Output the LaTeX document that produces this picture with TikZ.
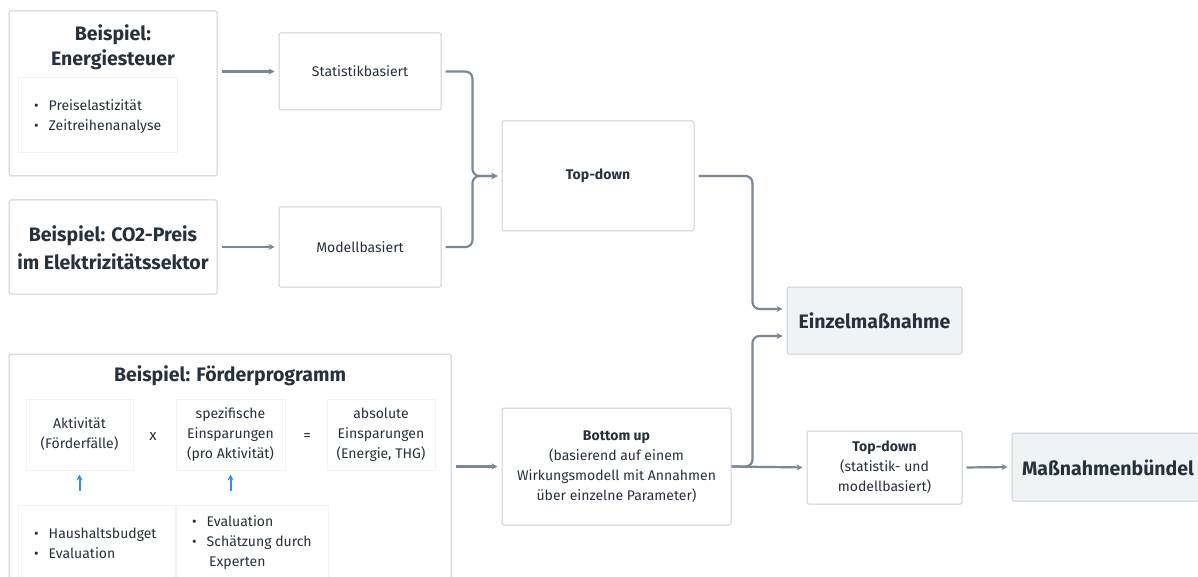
\documentclass[tikz,border=0pt]{standalone}
\usepackage{fontspec}
\setmainfont{Fira Sans}
\usetikzlibrary{arrows.meta,calc}
\definecolor{txt}{HTML}{27313C}
\definecolor{lnk}{HTML}{7B8794}
\definecolor{bord}{HTML}{C9CFD6}
\definecolor{faint}{HTML}{F1F2F4}
\definecolor{fillb}{HTML}{F0F3F6}
\definecolor{blu}{HTML}{3A8EE0}
\tikzset{
  box/.style={draw=bord, line width=1pt, rounded corners=1.5pt, fill=white, inner sep=0pt, text=txt},
  softbox/.style={draw=faint, line width=1pt, fill=white, inner sep=0pt, text=txt},
  hibox/.style={box, fill=fillb},
  plain/.style={text=txt, inner sep=0pt, align=center, font=\fontsize{14}{20}\selectfont},
  title/.style={text=txt, inner sep=0pt, align=center, font=\fontsize{19.5}{25}\selectfont\bfseries},
  bul/.style={text=txt, inner sep=0pt, align=left, font=\fontsize{14}{20}\selectfont},
  conn/.style={draw=lnk, line width=2.2pt, rounded corners=7pt, -{Stealth[length=6pt,width=6pt]}},
  bconn/.style={draw=blu, line width=2pt, -{Stealth[length=6pt,width=6pt]}},
}
\begin{document}
\begin{tikzpicture}[x=1pt,y=-1pt]
\useasboundingbox (0,0) rectangle (1198,577);
\clip (0,0) rectangle (1198,577);
% Box A
\node[box, minimum width=208pt, minimum height=165pt] (boxA) at (113,93.5) {};
\node[title] (titleA) at (113,47.5) {Beispiel:\\Energiesteuer};
\node[softbox, minimum width=159pt, minimum height=75pt] (bulA) at (97.5,115.5) {};
\node[bul, anchor=west] (bulAt) at (34,117) {•\hspace{10pt}Preiselastizität\\•\hspace{10pt}Zeitreihenanalyse};
% Box B
\node[box, minimum width=208pt, minimum height=94pt] (boxB) at (113,247) {};
\node[title, font=\fontsize{19.5}{28}\selectfont\bfseries] (titleB) at (113,248) {Beispiel: CO2-Preis\\im Elektrizitätssektor};
% Stat / Mod
\node[box, minimum width=162pt, minimum height=77pt, plain] (stat) at (360,71.5) {Statistikbasiert};
\node[box, minimum width=162pt, minimum height=80pt, plain] (mod) at (360,247) {Modellbasiert};
% Top-down
\node[box, minimum width=192pt, minimum height=110pt, plain, font=\fontsize{14}{20}\selectfont\bfseries] (td) at (598,176) {Top-down};
% Einzel
\node[hibox, minimum width=175pt, minimum height=67pt, title] (einzel) at (874.5,320.5) {Einzelmaßnahme};
% Box C
\node[box, minimum width=442pt, minimum height=240pt] (boxC) at (230,474) {};
\node[title] (titleC) at (230,376) {Beispiel: Förderprogramm};
\node[softbox, minimum width=107pt, minimum height=71pt, plain] (akt) at (79.5,434.5) {Aktivität\\(Förderfälle)};
\node[plain, font=\fontsize{15}{20}\selectfont] (mal) at (153,437) {x};
\node[softbox, minimum width=109pt, minimum height=71pt, plain] (spez) at (230.5,434.5) {spezifische\\Einsparungen\\(pro Aktivität)};
\node[plain, font=\fontsize{15}{20}\selectfont] (gl) at (307,437) {=};
\node[softbox, minimum width=108pt, minimum height=71pt, plain] (abs) at (381,434.5) {absolute\\Einsparungen\\(Energie, THG)};
\node[softbox, minimum width=157pt, minimum height=85pt] (hh) at (96.5,547.5) {};
\node[bul, anchor=west] (hht) at (34,543) {•\hspace{10pt}Haushaltsbudget\\•\hspace{10pt}Evaluation};
\node[softbox, minimum width=152pt, minimum height=85pt] (ev) at (252,547.5) {};
\node[bul, anchor=west] (evt) at (192,543) {•\hspace{10pt}Evaluation\\•\hspace{10pt}Schätzung durch\\\hspace{17pt}Experten};
\draw[bconn, shorten <=14pt, shorten >=4pt] (akt.south |- hh.north) -- (akt.south);
\draw[bconn, shorten <=14pt, shorten >=4pt] (spez.south |- ev.north) -- (spez.south);
% Bottom up
\node[box, minimum width=229pt, minimum height=117pt, plain] (bu) at (616.5,466.5) {\textbf{Bottom up}\\(basierend auf einem\\Wirkungsmodell mit Annahmen\\über einzelne Parameter)};
% Top-down 2
\node[box, minimum width=155pt, minimum height=73pt, plain] (td2) at (884.5,467.5) {\textbf{Top-down}\\(statistik- und\\modellbasiert)};
% Massnahmenbuendel
\node[hibox, minimum width=198pt, minimum height=68pt] (mb) at (1111,467) {};
\node[title] (mbt) at (1108,468) {Maßnahmenbündel};
% connectors
\draw[conn, shorten <=4pt, shorten >=4pt] (boxA.east |- stat.west) -- (stat.west);
\draw[conn, shorten <=4pt, shorten >=4pt] (boxB.east |- mod.west) -- (mod.west);
\draw[conn, shorten <=4pt, shorten >=4pt] (stat.east) -- ++(31,0) |- (td.west);
\draw[conn, shorten <=4pt, shorten >=4pt] (mod.east) -- ++(31,0) |- (td.west);
\draw[conn, shorten <=4pt, shorten >=4pt] (td.east) -- ++(58,0) |- ([yshift=11.5pt]einzel.west);
\draw[conn, shorten <=4pt, shorten >=4pt] (boxC.east |- bu.west) -- (bu.west);
\draw[conn, shorten >=4pt] (bu.east) -- (td2.west);
\draw[conn, shorten >=4pt] (bu.east) -- ++(21,0) |- ([yshift=-15.5pt]einzel.west);
\draw[conn, shorten <=4pt, shorten >=4pt] (td2.east) -- (mb.west);
\end{tikzpicture}
\end{document}
